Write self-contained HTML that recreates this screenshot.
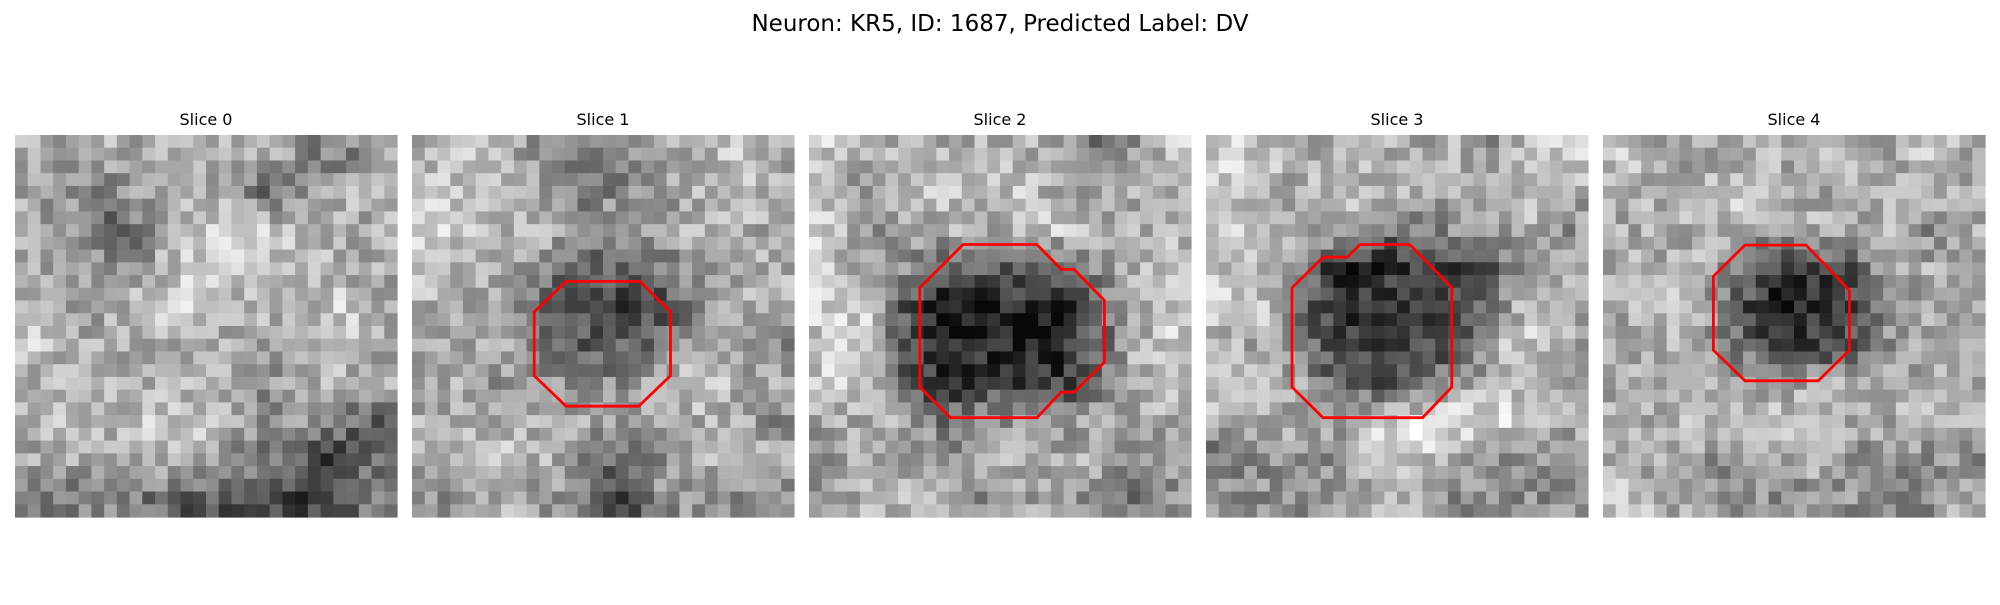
<!DOCTYPE html>
<html><head><meta charset="utf-8"><style>
body{margin:0;background:#fff;width:2000px;height:600px;overflow:hidden;font-family:"Liberation Sans","DejaVu Sans",sans-serif}
</style></head><body>
<svg id="fig" width="2000" height="600" xmlns="http://www.w3.org/2000/svg">
<text x="1000" y="31" text-anchor="middle" font-size="23" fill="#000" font-family="DejaVu Sans, Liberation Sans, sans-serif">Neuron: KR5, ID: 1687, Predicted Label: DV</text>
</svg>
<script>
const sliceTitles=["Slice 0","Slice 1","Slice 2","Slice 3","Slice 4"];
const panelX=[15,412,809,1206,1603];
const coarse0=[[6,6,6,6,7,6,6,5,4,6],[6,5,4,6,6,6,4,5,6,6],[6,5,4,4,7,7,7,6,6,6],[6,6,5,6,7,7,7,7,6,6],[6,5,6,7,7,6,7,6,7,6],[7,6,6,6,6,6,5,6,7,6],[6,6,6,6,6,6,5,6,6,6],[6,7,6,7,7,6,5,5,4,3],[6,6,6,6,7,5,4,3,2,4],[4,4,5,4,3,3,3,2,3,5]];
const coarse1=[[6,7,6,5,5,4,6,6,7,6],[7,7,6,5,4,5,5,6,7,6],[7,7,6,6,5,6,6,6,6,6],[7,6,6,5,3,3,4,5,6,6],[6,6,5,3,2,2,2,5,6,6],[6,6,6,4,3,3,4,6,6,5],[6,6,5,5,5,5,6,7,6,6],[6,6,6,6,6,5,6,6,6,5],[6,7,7,6,5,3,5,6,6,6],[5,5,6,5,5,2,5,5,5,5]];
const coarse2=[[7,6,6,6,6,6,6,4,5,7],[7,5,6,7,6,7,6,5,6,6],[7,5,6,6,6,6,7,6,6,6],[7,6,5,3,3,3,3,5,6,7],[7,7,3,1,1,1,1,3,6,7],[7,7,3,1,1,1,1,3,6,7],[7,7,3,1,2,2,2,3,6,7],[6,6,6,4,5,5,5,6,6,6],[5,6,6,5,6,6,6,6,5,5],[5,6,6,6,5,6,5,5,4,5]];
const coarse3=[[7,7,6,6,6,6,6,5,7,7],[7,6,6,7,6,6,6,6,7,6],[7,7,6,6,4,4,5,5,6,5],[7,6,4,1,1,2,2,3,6,6],[7,7,4,1,2,2,2,4,7,6],[6,6,4,2,2,2,3,6,7,6],[7,6,6,3,3,3,5,6,7,6],[6,6,6,6,7,8,8,8,7,6],[4,5,5,5,7,7,6,5,5,5],[5,5,5,5,6,6,5,5,5,5]];
const coarse4=[[7,6,6,6,6,6,6,6,7,6],[6,6,6,7,6,6,6,6,6,6],[6,6,6,6,6,6,6,6,5,6],[6,6,6,4,2,2,3,6,6,6],[6,7,6,3,1,1,2,5,6,6],[6,6,6,4,2,2,3,5,6,6],[6,6,6,6,5,6,6,6,6,6],[6,6,7,6,7,7,6,6,6,6],[6,6,5,5,6,6,5,5,5,5],[7,6,6,5,5,5,5,5,5,6]];
const coarseMaps=[coarse0,coarse1,coarse2,coarse3,coarse4];
const contour1=[[12.1,11.5],[17.9,11.5],[20.3,13.9],[20.3,18.9],[17.8,21.3],[12.1,21.3],[9.6,18.9],[9.6,13.9]];
const contour2=[[12.1,8.6],[17.9,8.6],[19.8,10.55],[20.8,10.55],[23.2,13.0],[23.2,17.85],[20.8,20.2],[19.8,20.2],[17.9,22.2],[11.1,22.2],[8.7,19.8],[8.7,12.0]];
const contour3=[[12.1,8.6],[16.0,8.6],[19.3,12.0],[19.3,19.8],[17.0,22.2],[9.2,22.2],[6.75,19.8],[6.75,12.0],[9.2,9.6],[11.1,9.6]];
const contour4=[[11.15,8.65],[15.95,8.65],[19.35,12.2],[19.35,16.9],[16.9,19.3],[11.15,19.3],[8.67,16.9],[8.67,11.1]];
const contours=[null,contour1,contour2,contour3,contour4];

const NS="http://www.w3.org/2000/svg";
const svg=document.getElementById('fig');
const PY=135,PS=382,N=30,cell=PS/N;
function hash(a,b,c){let h=(a*374761393+b*668265263+c*2147483647)|0;h=(h^(h>>>13))*1274126177|0;h=h^(h>>>16);return ((h>>>0)%1000)/1000;}
function coarseAt(m,r,c){
  const fy=Math.min(Math.max((r-1)/3,0),9),fx=Math.min(Math.max((c-1)/3,0),9);
  const y0=Math.floor(fy),x0=Math.floor(fx),y1=Math.min(y0+1,9),x1=Math.min(x0+1,9);
  const ty=fy-y0,tx=fx-x0;
  const a=m[y0][x0]*(1-tx)+m[y0][x1]*tx,b=m[y1][x0]*(1-tx)+m[y1][x1]*tx;
  return a*(1-ty)+b*ty;
}
sliceTitles.forEach((t,p)=>{
  const x0=panelX[p];
  const tt=document.createElementNS(NS,'text');
  tt.setAttribute('x',x0+PS/2);tt.setAttribute('y',PY-10);tt.setAttribute('text-anchor','middle');
  tt.setAttribute('font-size','16');tt.setAttribute('font-family','DejaVu Sans, Liberation Sans, sans-serif');
  tt.textContent=t;
  
  
  svg.appendChild(tt);
  const g=document.createElementNS(NS,'g');
  
  
  svg.appendChild(g);
  const m=coarseMaps[p];
  for(let r=0;r<N;r++)for(let c=0;c<N;c++){
    let v=coarseAt(m,r,c)+(hash(p+1,r,c)-0.5)*3.0;
    v=Math.max(0,Math.min(9,v));
    const gv=Math.round(v*27.5+8);
    const rc=document.createElementNS(NS,'rect');
    rc.setAttribute('x',(x0+c*cell).toFixed(2));rc.setAttribute('y',(PY+r*cell).toFixed(2));
    rc.setAttribute('width',(cell+0.6).toFixed(2));rc.setAttribute('height',(cell+0.6).toFixed(2));
    rc.setAttribute('fill',`rgb(${gv},${gv},${gv})`);
    g.appendChild(rc);
  }
  const ct=contours[p];
  if(ct){
    const pg=document.createElementNS(NS,'polygon');
    pg.setAttribute('points',ct.map(q=>(x0+q[0]*cell).toFixed(1)+','+(PY+q[1]*cell).toFixed(1)).join(' '));
    pg.setAttribute('fill','none');pg.setAttribute('stroke','#ff0000');pg.setAttribute('stroke-width','2.8');
    
    
    svg.appendChild(pg);
  }
});
</script>
</body></html>
